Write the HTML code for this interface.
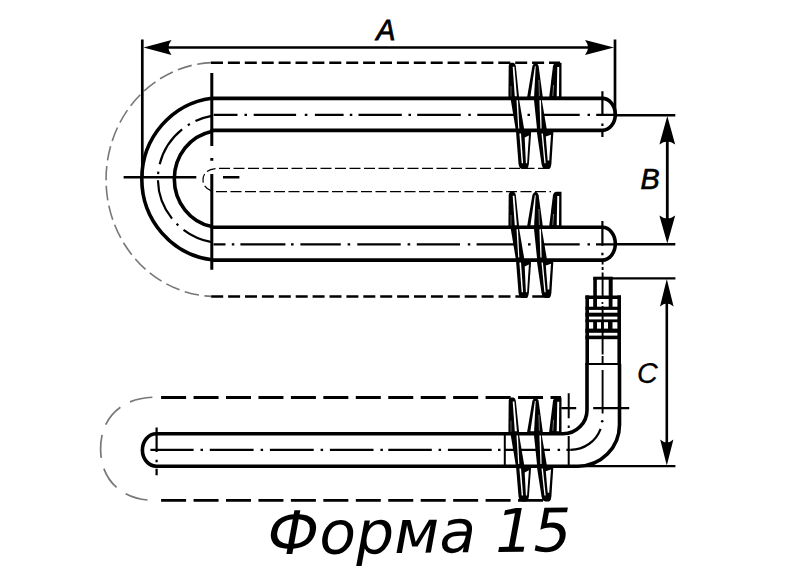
<!DOCTYPE html>
<html lang="ru"><head><meta charset="utf-8"><title>Форма 15</title>
<style>html,body{margin:0;padding:0;background:#fff}svg{display:block}</style></head>
<body>
<svg width="801" height="566" viewBox="0 0 801 566" style="display:block">
<rect width="801" height="566" fill="#fff"/>
<path d="M211.5 62.6A110 117 0 0 0 211.5 296.4" fill="none" stroke="#777" stroke-width="1.6" stroke-dasharray="14.5 5.5"/>
<path d="M211 62.8H560" stroke="#000" stroke-width="2.6" stroke-dasharray="12 4.9" fill="none"/>
<path d="M211.2 296.5H545" stroke="#000" stroke-width="2.6" stroke-dasharray="12 4.9" fill="none"/>
<path d="M219 168.4H552" stroke="#000" stroke-width="1.2" stroke-dasharray="11 3.5" fill="none"/>
<path d="M216 191.6H551" stroke="#000" stroke-width="1.2" stroke-dasharray="11 3.5" fill="none"/>
<path d="M215.5 168.6Q203 170 203 180Q203 188 212.5 191.4" stroke="#000" stroke-width="1.2" stroke-dasharray="9 3.5" fill="none"/>
<g transform="translate(0,0)">
<path d="M508.4 98.5L508.7 66Q508.9 63 511 62.8L513.4 62.8Q515.3 63 515.8 66L519.2 98.5Z" fill="#000" />
<polygon points="512.7,66.8 514.4,66.8 516.9,96.5 514.8,96.5" fill="#fff" />
<path d="M511 86V97" stroke="#888" stroke-width="0.7" fill="none"/>
<path d="M526.9 98.5L532.4 66Q533.6 63 535.6 62.8Q537.6 63 538.6 66L543 98.5Z" fill="#000" />
<polygon points="534.9,66.2 535.7,66.2 534.1,96.5 530.4,96.5" fill="#fff" />
<path d="M538.9 80L539.4 96" stroke="#999" stroke-width="0.8" fill="none"/>
<path d="M549 98.5L553 66Q553.6 63 556 62.8L561.5 62.8L561.5 98.5Z" fill="#000" />
<polygon points="557.3,67.0 559.2,67.0 559.0,96.5 556.7,96.5" fill="#fff" />
<path d="M553.6 85L552.8 96" stroke="#999" stroke-width="0.8" fill="none"/>
<path d="M515.9 130.3L518.5 163.8Q519.2 169.0 522.4 169.0L526 169.0Q528.2 169.0 528.9 163.8L531.1 132.70000000000002L531.1 130.3Z" fill="#000" />
<polygon points="519.4,133.6 521.0,133.6 523.1,163.2 521.7,163.2" fill="#fff" />
<polygon points="524.7,137.6 528.9,135.4 527.1,163.2 525.9,163.2" fill="#fff" />
<path d="M536.6 130.3L541.5 163.8Q542.4 169.0 545.5 169.0L548.8 169.0Q550.8 169.0 551.4 163.8L553.3 132.70000000000002L553.3 130.3Z" fill="#000" />
<polygon points="541.5,133.6 542.9,133.6 545.7,163.2 544.4,163.2" fill="#fff" />
<polygon points="545.8,136.4 551.0,134.8 549.2,160.4 547.7,160.4" fill="#fff" />
</g>
<g transform="translate(0,129)">
<path d="M508.4 98.5L508.7 66Q508.9 63 511 62.8L513.4 62.8Q515.3 63 515.8 66L519.2 98.5Z" fill="#000" />
<polygon points="512.7,66.8 514.4,66.8 516.9,96.5 514.8,96.5" fill="#fff" />
<path d="M511 86V97" stroke="#888" stroke-width="0.7" fill="none"/>
<path d="M526.9 98.5L532.4 66Q533.6 63 535.6 62.8Q537.6 63 538.6 66L543 98.5Z" fill="#000" />
<polygon points="534.9,66.2 535.7,66.2 534.1,96.5 530.4,96.5" fill="#fff" />
<path d="M538.9 80L539.4 96" stroke="#999" stroke-width="0.8" fill="none"/>
<path d="M549 98.5L553 66Q553.6 63 556 62.8L561.5 62.8L561.5 98.5Z" fill="#000" />
<polygon points="557.3,67.0 559.2,67.0 559.0,96.5 556.7,96.5" fill="#fff" />
<path d="M553.6 85L552.8 96" stroke="#999" stroke-width="0.8" fill="none"/>
<path d="M515.9 130.3L518.5 163.8Q519.2 169.0 522.4 169.0L526 169.0Q528.2 169.0 528.9 163.8L531.1 132.70000000000002L531.1 130.3Z" fill="#000" />
<polygon points="519.4,133.6 521.0,133.6 523.1,163.2 521.7,163.2" fill="#fff" />
<polygon points="524.7,137.6 528.9,135.4 527.1,163.2 525.9,163.2" fill="#fff" />
<path d="M536.6 130.3L541.5 163.8Q542.4 169.0 545.5 169.0L548.8 169.0Q550.8 169.0 551.4 163.8L553.3 132.70000000000002L553.3 130.3Z" fill="#000" />
<polygon points="541.5,133.6 542.9,133.6 545.7,163.2 544.4,163.2" fill="#fff" />
<polygon points="545.8,136.4 551.0,134.8 549.2,160.4 547.7,160.4" fill="#fff" />
</g>
<path d="M602.3 98.4H211.7L211.7 98.16A80.06 81.5 0 0 0 211.7 259.84L211.7 260.1H602.3A13 16.400000000000006 0 0 0 602.3 227.3H211.7L211.7 226.56A46.2 48.45 0 0 1 211.7 131.44L211.7 130.4H602.3A13 16.0 0 0 0 602.3 98.4Z" fill="#fff" stroke="#000" stroke-width="3.6" stroke-linejoin="round"/>
<path d="M211.7 115.91A66 64.2 0 0 0 211.7 242.09" fill="none" stroke="#000" stroke-width="2.2" stroke-dasharray="17.1 6.3 2.4 7 42.2 7.5 2.4 6.3 41.5 6.8 2.4 6.8 60"/>
<path d="M213.7 114.9H237.5M244.5 114.9H247M253.7 114.9H296.1M304.8 114.9H307.4M314.9 114.9H343.6M349.8 114.9H352.3M358.5 114.9H401.8M408.5 114.9H411M417.2 114.9H460.8M468.3 114.9H470.8M477.3 114.9H515.4M527.5 114.9H530M543 114.9H579.7M587.5 114.9H590M596.2 114.9H616" stroke="#000" stroke-width="2.2" fill="none"/>
<path d="M213.5 244.3H225.5M231.8 244.3H234.3M240.4 244.3H285.4M291 244.3H293.6M300.4 244.3H340.8M347.6 244.3H350.2M357.3 244.3H400.7M407.6 244.3H410.2M416.8 244.3H460M467.8 244.3H470.3M476.6 244.3H515M528 244.3H530.6M543.5 244.3H579.7M587.5 244.3H590M596 244.3H616" stroke="#000" stroke-width="2.2" fill="none"/>
<path d="M211.8 73V146M211.8 158V160.8M211.8 174V269.7" stroke="#000" stroke-width="3" fill="none"/>
<path d="M123.6 177.3H196.3M223 177.3H239.4" stroke="#000" stroke-width="2.5" fill="none"/>
<path d="M602.4 91.3V116M602.4 123.6V126M602.4 131.8V137" stroke="#000" stroke-width="2.2" fill="none"/>
<path d="M602.4 221V245.7M602.4 252.8V255.2" stroke="#000" stroke-width="2.2" fill="none"/>
<g transform="translate(0,0)">
<polygon points="510.3,97.0 518.7,97.0 524.6,131.8 516.1,131.8" fill="#000" />
<polygon points="516.5,100.2 518.0,100.2 519.3,128.6 518.2,128.6" fill="#fff" />
<polygon points="533.7,97.0 541.3,97.0 547.2,131.8 537.3,131.8" fill="#000" />
<polygon points="539.4,100.2 541.0,100.2 541.6,128.6 540.4,128.6" fill="#fff" />
</g>
<g transform="translate(0,129)">
<polygon points="510.3,97.0 518.7,97.0 524.6,131.8 516.1,131.8" fill="#000" />
<polygon points="516.5,100.2 518.0,100.2 519.3,128.6 518.2,128.6" fill="#fff" />
<polygon points="533.7,97.0 541.3,97.0 547.2,131.8 537.3,131.8" fill="#000" />
<polygon points="539.4,100.2 541.0,100.2 541.6,128.6 540.4,128.6" fill="#fff" />
</g>
<line x1="142.3" y1="39.5" x2="142.3" y2="177" stroke="#000" stroke-width="2.7" />
<line x1="615" y1="39.5" x2="615" y2="115" stroke="#000" stroke-width="2.7" />
<line x1="150" y1="47.4" x2="608" y2="47.4" stroke="#000" stroke-width="2.5" />
<path d="M143.5 47.4L171.5 39.9Q165.5 47.4 171.5 54.9Z" fill="#000"/>
<path d="M614 47.4L585.0 54.9Q591.0 47.4 585.0 39.9Z" fill="#000"/>
<text x="376.3" y="40" font-family="'Liberation Sans',sans-serif" font-style="italic" font-size="28.7" fill="#000" stroke="#000" stroke-width="0.8">A</text>
<line x1="616" y1="115.3" x2="675.3" y2="115.3" stroke="#000" stroke-width="2.4" />
<line x1="616" y1="244.3" x2="675.3" y2="244.3" stroke="#000" stroke-width="2.4" />
<line x1="667.3" y1="125" x2="667.3" y2="235" stroke="#000" stroke-width="2.8" />
<path d="M667.3 116L675.2 144.6Q667.3 138.6 659.4 144.6Z" fill="#000"/>
<path d="M667.3 243.6L659.4 215.6Q667.3 221.6 675.2 215.6Z" fill="#000"/>
<text x="640.6" y="189.3" font-family="'Liberation Sans',sans-serif" font-style="italic" font-size="28.7" fill="#000" stroke="#000" stroke-width="0.7">B</text>
<path d="M155.5 397.2C122.0 397.2 100.6 417.3 100.6 448.79999999999995C100.6 480.3 122.0 500.4 155.5 500.4" fill="none" stroke="#777" stroke-width="1.7" stroke-dasharray="23 11" stroke-dashoffset="-3"/>
<path d="M161.1 397.5H561" stroke="#000" stroke-width="2.9" stroke-dasharray="25 7.45" fill="none"/>
<path d="M161.1 500.4H545" stroke="#000" stroke-width="2.9" stroke-dasharray="25 7.45" fill="none"/>
<g transform="translate(0,334.8)">
<path d="M508.4 98.5L508.7 66Q508.9 63 511 62.8L513.4 62.8Q515.3 63 515.8 66L519.2 98.5Z" fill="#000" />
<polygon points="512.7,66.8 514.4,66.8 516.9,96.5 514.8,96.5" fill="#fff" />
<path d="M511 86V97" stroke="#888" stroke-width="0.7" fill="none"/>
<path d="M526.9 98.5L532.4 66Q533.6 63 535.6 62.8Q537.6 63 538.6 66L543 98.5Z" fill="#000" />
<polygon points="534.9,66.2 535.7,66.2 534.1,96.5 530.4,96.5" fill="#fff" />
<path d="M538.9 80L539.4 96" stroke="#999" stroke-width="0.8" fill="none"/>
<path d="M549 98.5L553 66Q553.6 63 556 62.8L561.5 62.8L561.5 98.5Z" fill="#000" />
<polygon points="557.3,67.0 559.2,67.0 559.0,96.5 556.7,96.5" fill="#fff" />
<path d="M553.6 85L552.8 96" stroke="#999" stroke-width="0.8" fill="none"/>
<path d="M515.9 130.3L518.5 161.4Q519.2 166.6 522.4 166.6L526 166.6Q528.2 166.6 528.9 161.4L531.1 132.70000000000002L531.1 130.3Z" fill="#000" />
<polygon points="519.4,133.6 521.0,133.6 523.1,160.8 521.7,160.8" fill="#fff" />
<polygon points="524.7,137.6 528.9,135.4 527.1,160.8 525.9,160.8" fill="#fff" />
<path d="M536.6 130.3L541.5 161.4Q542.4 166.6 545.5 166.6L548.8 166.6Q550.8 166.6 551.4 161.4L553.3 132.70000000000002L553.3 130.3Z" fill="#000" />
<polygon points="541.5,133.6 542.9,133.6 545.7,160.8 544.4,160.8" fill="#fff" />
<polygon points="545.8,136.4 551.0,134.8 549.2,158.0 547.7,158.0" fill="#fff" />
</g>
<path d="M587.0 364V409.2A24 24 0 0 1 563.0 433.8H156.4A14 16.19999999999999 0 0 0 156.4 466.2H578.0A41.5 41.5 0 0 0 619.5 424.7V364" fill="#fff" stroke="#000" stroke-width="3.6" stroke-linejoin="round"/>
<path d="M150.4 449.8H193.6M200.5 449.8H203M209.8 449.8H253.6M260.6 449.8H263.1M269.9 449.8H313.7M320.6 449.8H323.1M329.9 449.8H373.5M380.4 449.8H382.9M388.3 449.8H431.8M438.6 449.8H441.1M447.9 449.8H491.7M498 449.8H500.5M504.8 449.8H550M557.6 449.8H560.1M566.4 449.8H570.6" stroke="#000" stroke-width="2.2" fill="none"/>
<path d="M570.6 449.8A32 32 0 0 0 600.6 428.8" fill="none" stroke="#000" stroke-width="2.2"/>
<circle cx="602.2" cy="421.2" r="1.3" fill="#000"/>
<path d="M156.6 427.4V452.1M156.6 459.8V462.2M156.6 468.8V475.2" stroke="#000" stroke-width="2.2" fill="none"/>
<path d="M504.8 433.8V466.2" stroke="#000" stroke-width="2" fill="none"/>
<path d="M568.7 393.3V418.3M568.7 425.6V428M568.7 436V467.8" stroke="#000" stroke-width="2" fill="none"/>
<path d="M561.4 408.1H576.2M593.2 408.1H629.2" stroke="#000" stroke-width="2.2" fill="none"/>
<g transform="translate(0,335.4)">
<polygon points="510.3,97.0 518.7,97.0 524.6,131.8 516.1,131.8" fill="#000" />
<polygon points="516.5,100.2 518.0,100.2 519.3,128.6 518.2,128.6" fill="#fff" />
<polygon points="533.7,97.0 541.3,97.0 547.2,131.8 537.3,131.8" fill="#000" />
<polygon points="539.4,100.2 541.0,100.2 541.6,128.6 540.4,128.6" fill="#fff" />
</g>
<rect x="585.4" y="296" width="35.6" height="68" fill="#fff" stroke="none"/>
<rect x="593.2" y="277.7" width="19.8" height="19" fill="#fff" stroke="none"/>
<path d="M595.05 277.7V296" stroke="#000" stroke-width="3.6" fill="none"/>
<path d="M610.7 277.7V296" stroke="#000" stroke-width="4" fill="none"/>
<path d="M593.25 278.2H612.7" stroke="#000" stroke-width="3" fill="none"/>
<path d="M587.2 295.4V365" stroke="#000" stroke-width="3.6" fill="none"/>
<path d="M619.2 295.4V365" stroke="#000" stroke-width="3.6" fill="none"/>
<path d="M585.4 297.2H621" stroke="#000" stroke-width="3.5" fill="none"/>
<rect x="585.4" y="306.7" width="35.6" height="3.1999999999999886" fill="#000"/>
<rect x="585.4" y="312.7" width="35.6" height="3.900000000000034" fill="#000"/>
<rect x="585.4" y="319.4" width="35.6" height="2.8000000000000114" fill="#000"/>
<rect x="585.4" y="328.6" width="35.6" height="4.199999999999989" fill="#000"/>
<rect x="585.4" y="335.6" width="35.6" height="3.599999999999966" fill="#000"/>
<rect x="593.2" y="297" width="3.7999999999999545" height="10" fill="#000"/>
<rect x="608.7" y="297" width="3.7999999999999545" height="10" fill="#000"/>
<rect x="593.2" y="322" width="3.7999999999999545" height="7" fill="#000"/>
<rect x="601" y="322" width="2.7999999999999545" height="7" fill="#000"/>
<rect x="608" y="322" width="4.5" height="7" fill="#000"/>
<path d="M585.4 364H621" stroke="#000" stroke-width="2" fill="none"/>
<path d="M602.6 260.5V264.5M602.6 267V270M602.6 272.5V296M602.6 306V354.4M602.6 356V363.5M602.6 370V413.6" stroke="#000" stroke-width="1.9" fill="none"/>
<circle cx="602.4" cy="303" r="1.1" fill="#000"/>
<line x1="611" y1="278.4" x2="675.4" y2="278.4" stroke="#000" stroke-width="2.2" />
<line x1="575" y1="466.2" x2="675.4" y2="466.2" stroke="#000" stroke-width="2.2" />
<line x1="666.8" y1="288" x2="666.8" y2="456" stroke="#000" stroke-width="2.6" />
<path d="M666.8 279L673.6 306.5Q666.8 300.5 660.0 306.5Z" fill="#000"/>
<path d="M666.8 465.6L660.2 439.6Q666.8 445.6 673.4 439.6Z" fill="#000"/>
<text x="637" y="382.5" font-family="'Liberation Sans',sans-serif" font-style="italic" font-size="28.7" fill="#000" stroke="#000" stroke-width="0.25">C</text>
<text x="267.8" y="551.5" transform="rotate(-0.62 530 551.5)" font-family="'DejaVu Sans',sans-serif" font-style="italic" font-size="60" fill="#000">Форма 15</text>
</svg>
</body></html>
